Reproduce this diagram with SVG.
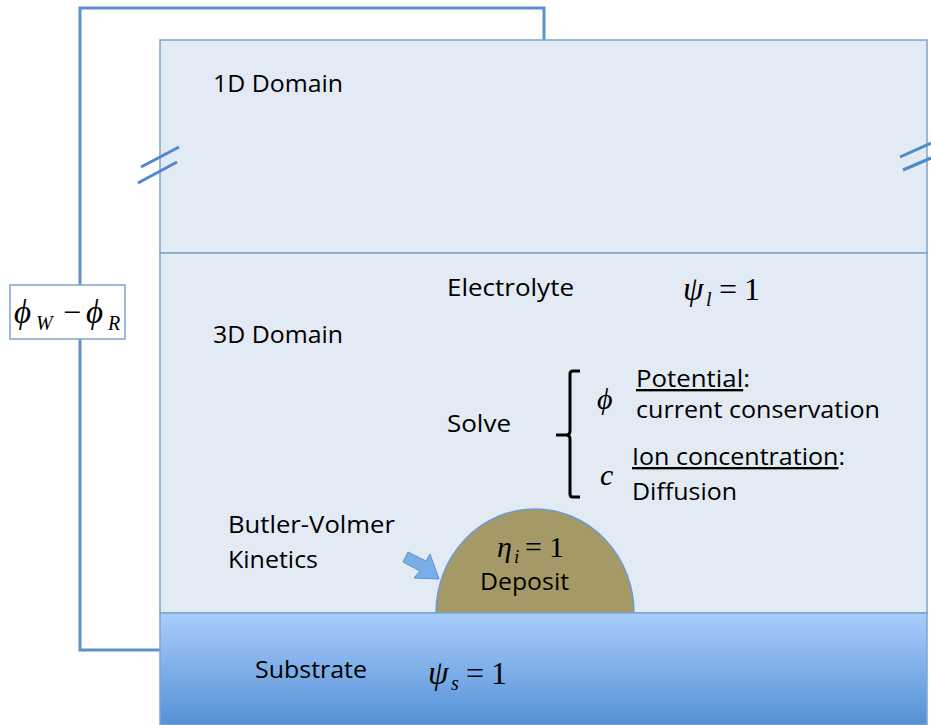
<svg xmlns="http://www.w3.org/2000/svg" width="931" height="725" viewBox="0 0 931 725">
<defs>
<linearGradient id="sub" x1="0" y1="0" x2="0" y2="1">
<stop offset="0" stop-color="#a9cdfd"/>
<stop offset="1" stop-color="#5591d5"/>
</linearGradient>
<style>
.dom{fill:#e2eaf4;stroke:#7ea4cf;stroke-width:1.5}
.wire{fill:none;stroke:#5f91c9;stroke-width:3}
.brk{stroke:#4f88cc;stroke-width:3;fill:none}
.t{font-family:"Open Sans","Liberation Sans",sans-serif;font-size:23.5px;fill:#000}
.m{font-family:"Liberation Serif","Times New Roman",serif;font-style:italic;fill:#000}
.n{font-family:"Liberation Serif","Times New Roman",serif;font-style:normal;fill:#000}
</style>
</defs>
<rect width="931" height="725" fill="#fff"/>
<g id="connectors">
<path class="wire" d="M544,40 V8 H80 V650 H160"/>
</g>
<g id="domain1d">
<rect class="dom" x="160" y="40" width="767" height="213"/>
<text class="t" x="213" y="92" textLength="130" lengthAdjust="spacingAndGlyphs">1D Domain</text>
<path class="brk" d="M141,167 L179,147 M138,183 L177,162 M900,157 L931,143 M903,170 L931,158"/>
</g>
<g id="domain3d">
<rect class="dom" x="160" y="253" width="767" height="360"/>
<text class="t" x="213" y="343" textLength="130" lengthAdjust="spacingAndGlyphs">3D Domain</text>
<text class="t" x="447" y="296" textLength="127" lengthAdjust="spacingAndGlyphs">Electrolyte</text>
<text class="m" x="683" y="300" font-size="33">ψ</text>
<text class="m" x="706" y="306" font-size="20">l</text>
<text class="n" x="719" y="300" font-size="32">=</text>
<text class="n" x="744" y="300" font-size="32">1</text>
<text class="t" x="447" y="432" textLength="64" lengthAdjust="spacingAndGlyphs">Solve</text>
<path d="M580,371 H573 Q570,371 570,374 V431 Q570,435 566,435 H556 M566,435 Q570,435 570,439 V494 Q570,497 573,497 H580" fill="none" stroke="#000" stroke-width="3"/>
<text class="m" x="597" y="409" font-size="30">ϕ</text>
<text class="t" x="636" y="387" textLength="114" lengthAdjust="spacingAndGlyphs"><tspan text-decoration="underline">Potential</tspan>:</text>
<text class="t" x="636" y="418" textLength="244" lengthAdjust="spacingAndGlyphs">current conservation</text>
<text class="m" x="600" y="485" font-size="30">c</text>
<text class="t" x="632" y="465" textLength="213" lengthAdjust="spacingAndGlyphs"><tspan text-decoration="underline">Ion concentration</tspan>:</text>
<text class="t" x="632" y="500" textLength="105" lengthAdjust="spacingAndGlyphs">Diffusion</text>
<text class="t" x="228" y="533" textLength="167" lengthAdjust="spacingAndGlyphs">Butler-Volmer</text>
<text class="t" x="228" y="568" textLength="90" lengthAdjust="spacingAndGlyphs">Kinetics</text>
<path d="M403,562 L408,552 L426,561 L430,554 L439,579 L414,578 L420,571 Z" fill="#7aaee8" stroke="#5b8fcf" stroke-width="1"/>
</g>
<g id="deposit">
<path d="M436,613 A99,104 0 0 1 634,613 Z" fill="#a59a67" stroke="#6e9ad0" stroke-width="1.5"/>
<text class="m" x="497" y="557" font-size="30">η</text>
<text class="m" x="514" y="563" font-size="19">i</text>
<text class="n" x="525" y="557" font-size="30">=</text>
<text class="n" x="549" y="557" font-size="30">1</text>
<text class="t" x="480" y="590" textLength="89" lengthAdjust="spacingAndGlyphs">Deposit</text>
</g>
<g id="substrate">
<rect x="160" y="613" width="767" height="112" fill="url(#sub)" stroke="#7ea4cf" stroke-width="1.5"/>
<text class="t" x="255" y="678" textLength="112" lengthAdjust="spacingAndGlyphs">Substrate</text>
<text class="m" x="428" y="684" font-size="33">ψ</text>
<text class="m" x="451" y="690" font-size="20">s</text>
<text class="n" x="466" y="684" font-size="32">=</text>
<text class="n" x="491" y="684" font-size="32">1</text>
</g>
<g id="potential">
<rect x="10" y="285" width="115" height="54" fill="#fff" stroke="#7ea4cf" stroke-width="1.5"/>
<text class="m" x="14" y="323" font-size="33">ϕ</text>
<text class="m" x="36" y="330" font-size="20">W</text>
<text class="n" x="63" y="323" font-size="32">−</text>
<text class="m" x="86" y="323" font-size="33">ϕ</text>
<text class="m" x="108" y="330" font-size="20">R</text>
</g>
</svg>
